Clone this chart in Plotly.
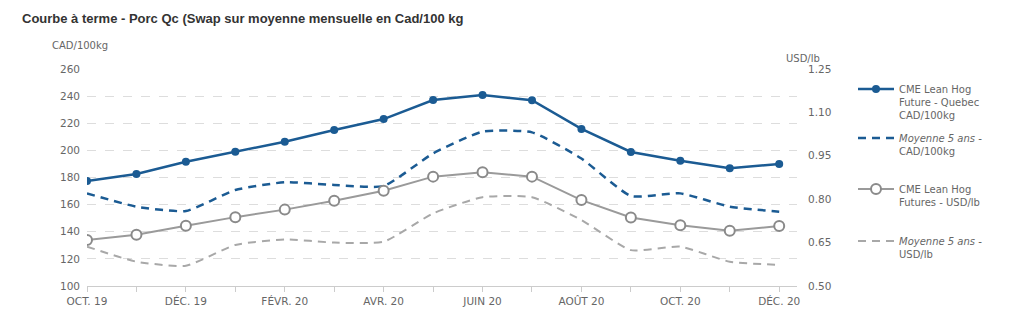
import plotly.graph_objects as go

months = ["OCT. 19", "NOV. 19", "DÉC. 19", "JANV. 20", "FÉVR. 20", "MARS 20", "AVR. 20", "MAI 20",
          "JUIN 20", "JUIL. 20", "AOÛT 20", "SEPT. 20", "OCT. 20", "NOV. 20", "DÉC. 20"]
tick_labels = ["OCT. 19", "", "DÉC. 19", "", "FÉVR. 20", "", "AVR. 20", "",
               "JUIN 20", "", "AOÛT 20", "", "OCT. 20", "", "DÉC. 20"]

cme_cad = [177.4, 182.6, 191.6, 199.0, 206.4, 215.0, 223.1, 237.1, 240.8, 237.0, 215.8, 198.8, 192.4, 186.8, 190.0]
avg5_cad = [168.3, 158.5, 155.3, 170.8, 176.5, 174.5, 173.7, 197.8, 213.8, 213.3, 194.0, 166.4, 168.3, 158.5, 154.8]
cme_usd = [0.659, 0.677, 0.708, 0.738, 0.764, 0.795, 0.829, 0.878, 0.893, 0.878, 0.797, 0.737, 0.710, 0.691, 0.707]
avg5_usd = [0.636, 0.584, 0.570, 0.642, 0.661, 0.650, 0.653, 0.751, 0.807, 0.807, 0.728, 0.624, 0.636, 0.584, 0.573]

BLUE = "#1b5b93"
GRAY = "#9a9a9a"
TXT = "#666666"
FONT = "DejaVu Sans"

x = list(range(len(months)))
fig = go.Figure()

fig.add_trace(go.Scatter(x=x, y=cme_cad, mode="lines+markers", name="CME Lean Hog<br>Future - Quebec<br>CAD/100kg",
                         line=dict(color=BLUE, width=2.5), marker=dict(color=BLUE, size=8),
                         legend="legend", yaxis="y", showlegend=True))
fig.add_trace(go.Scatter(x=x, y=avg5_cad, mode="lines", name="<i>Moyenne 5 ans -</i><br>CAD/100kg",
                         line=dict(color=BLUE, width=2.5, dash="8px,6px", shape="spline", smoothing=0.5),
                         legend="legend2", yaxis="y", showlegend=True))
fig.add_trace(go.Scatter(x=x, y=cme_usd, mode="lines+markers", name="CME Lean Hog<br>Futures - USD/lb",
                         line=dict(color=GRAY, width=2), marker=dict(color="white", size=10, line=dict(color="#8a8a8a", width=2)),
                         legend="legend3", yaxis="y2", showlegend=True))
fig.add_trace(go.Scatter(x=x, y=avg5_usd, mode="lines", name="<i>Moyenne 5 ans -</i><br>USD/lb",
                         line=dict(color="#a8a8a8", width=2, dash="8px,6px", shape="spline", smoothing=0.5),
                         legend="legend4", yaxis="y2", showlegend=True))

W, H = 1024, 327
L, R, T, B = 87, 227, 69, 41
pw, ph = W - L - R, H - T - B

def lx(px):
    return (px - L) / pw

def ly(py):
    return (H - B - py) / ph

leg_common = dict(font=dict(family=FONT, size=10, color=TXT), bgcolor="rgba(0,0,0,0)",
                  xanchor="left", yanchor="top", valign="top", itemwidth=36, borderwidth=0, visible=True)

fig.update_layout(
    width=W, height=H,
    margin=dict(l=L, r=R, t=T, b=B),
    showlegend=True,
    paper_bgcolor="white", plot_bgcolor="white",
    font=dict(family=FONT, size=10, color=TXT),
    title=dict(text="<b>Courbe à terme - Porc Qc (Swap sur moyenne mensuelle en Cad/100 kg</b>",
               x=22 / W, xref="container", xanchor="left", y=1 - 18 / H, yref="container", yanchor="middle",
               font=dict(family="Liberation Sans", size=13, color="#333333")),
    xaxis=dict(range=[0, 14.36], tickmode="array", tickvals=x, ticktext=tick_labels,
               showgrid=False, zeroline=False, showline=True, linecolor="#cccccc", linewidth=1,
               ticks="outside", ticklen=5, tickcolor="#cccccc", tickfont=dict(family=FONT, size=10.5, color=TXT)),
    yaxis=dict(range=[100, 260], dtick=20, tick0=100, showgrid=True, gridcolor="#dddddd", griddash="dash",
               gridwidth=1, zeroline=False, showline=False, ticks="", ticklabelstandoff=6,
               tickfont=dict(family=FONT, size=10.5, color=TXT)),
    yaxis2=dict(range=[0.5, 1.25], dtick=0.15, tick0=0.5, tickformat=".2f", overlaying="y", side="right",
                showgrid=False, zeroline=False, showline=False, ticks="", ticklabelstandoff=10,
                tickfont=dict(family=FONT, size=10.5, color=TXT)),
    legend=dict(x=lx(853), y=ly(76), **leg_common),
    legend2=dict(x=lx(853), y=ly(125), **leg_common),
    legend3=dict(x=lx(853), y=ly(176), **leg_common),
    legend4=dict(x=lx(853), y=ly(228), **leg_common),
    annotations=[
        dict(text="CAD/100kg", xref="paper", yref="paper", x=lx(50), y=ly(46), xanchor="left", yanchor="middle",
             showarrow=False, font=dict(family=FONT, size=10, color=TXT)),
        dict(text="USD/lb", xref="paper", yref="paper", x=lx(822), y=ly(58), xanchor="right", yanchor="middle",
             showarrow=False, font=dict(family=FONT, size=10, color=TXT)),
    ],
)

fig.write_html("out.html")
